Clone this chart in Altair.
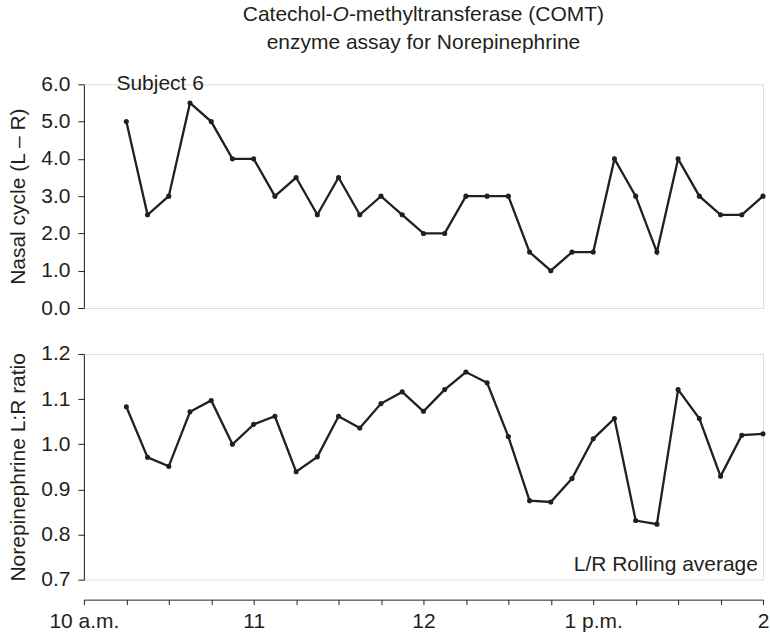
import altair as alt
import pandas as pd

# minutes after 10 a.m.
minutes = [15, 22.5, 30, 37.5, 45, 52.5, 60, 67.5, 75, 82.5, 90, 97.5, 105, 112.5,
           120, 127.5, 135, 142.5, 150, 157.5, 165, 172.5, 180, 187.5, 195, 202.5,
           210, 217.5, 225, 232.5, 240]
nasal_cycle = [5.0, 2.5, 3.0, 5.5, 5.0, 4.0, 4.0, 3.0, 3.5, 2.5, 3.5, 2.5, 3.0, 2.5,
               2.0, 2.0, 3.0, 3.0, 3.0, 1.5, 1.0, 1.5, 1.5, 4.0, 3.0, 1.5, 4.0, 3.0,
               2.5, 2.5, 3.0]
ne_ratio = [1.083, 0.971, 0.951, 1.072, 1.097, 1.000, 1.044, 1.062, 0.939, 0.972,
            1.062, 1.036, 1.090, 1.116, 1.073, 1.121, 1.160, 1.136, 1.017, 0.875,
            0.872, 0.924, 1.012, 1.057, 0.831, 0.823, 1.121, 1.057, 0.929, 1.020, 1.023]

hour_ticks = [0, 60, 120, 180, 240]
hour_labels = ["10 a.m.", "11", "12", "1 p.m.", "2"]
minor_ticks = [0, 15, 30, 45, 60, 75, 90, 105, 120, 135, 150, 165, 180, 195, 210, 225, 240]
top_ticks = [0, 1, 2, 3, 4, 5, 6]
bottom_ticks = [0.7, 0.8, 0.9, 1.0, 1.1, 1.2]

title_line1 = ["Catechol-", "O", "-methyltransferase (COMT)"]
title_line2 = "enzyme assay for Norepinephrine"

FONT = "Liberation Sans"
INK = "#231f20"
FS = 21
W = 680
H_TOP = 224
H_BOT = 226

df = pd.DataFrame({"t": minutes, "nasal": nasal_cycle, "ratio": ne_ratio})

xscale = alt.Scale(domain=[0, 240], nice=False, zero=False)

label_expr = " : ".join(
    f"datum.value == {v} ? '{s}'" for v, s in zip(hour_ticks, hour_labels)
) + " : ''"

yaxis_common = dict(
    format=".1f", tickSize=6, labelPadding=8, titlePadding=12,
    labelFontSize=FS, titleFontSize=FS, labelFont=FONT, titleFont=FONT,
    titleFontWeight="normal", labelColor=INK, titleColor=INK,
    domainColor=INK, tickColor=INK, grid=False, labelOverlap=False,
)

top_y = alt.Y("nasal:Q",
              scale=alt.Scale(domain=[0, 6], nice=False),
              axis=alt.Axis(values=top_ticks, title="Nasal cycle (L – R)", **yaxis_common))
top_x = alt.X("t:Q", scale=xscale, axis=None)

top_base = alt.Chart(df).encode(x=top_x, y=top_y)
top_line = top_base.mark_line(color=INK, strokeWidth=2.3)
top_pts = top_base.mark_circle(color=INK, size=26, opacity=1)

subj = alt.Chart(pd.DataFrame({"t": [11.5], "nasal": [6.0], "label": ["Subject 6"]})).mark_text(
    align="left", baseline="middle", font=FONT, fontSize=FS, color=INK
).encode(x=top_x, y=top_y, text="label:N")

# Title (line 1 has an italic "O"), built from text pieces centred over the plot
em = {"Catechol-": 4.279, "O": 0.778, "-methyltransferase (COMT)": 17.225 - 4.279 - 0.778}
total = sum(em.values()) * FS
x0 = W / 2 - total / 2
p1_end = x0 + em["Catechol-"] * FS
o_end = p1_end + em["O"] * FS
title_layers = []
for txt, xpos, align, style in [
    (title_line1[0], p1_end, "right", "normal"),
    (title_line1[1], (p1_end + o_end) / 2, "center", "italic"),
    (title_line1[2], o_end, "left", "normal"),
]:
    title_layers.append(
        alt.Chart(pd.DataFrame({"s": [txt]})).mark_text(
            align=align, baseline="alphabetic", font=FONT, fontSize=FS,
            fontStyle=style, color=INK
        ).encode(x=alt.value(xpos), y=alt.value(-63), text="s:N")
    )
title_layers.append(
    alt.Chart(pd.DataFrame({"s": [title_line2]})).mark_text(
        align="center", baseline="alphabetic", font=FONT, fontSize=FS, color=INK
    ).encode(x=alt.value(W / 2), y=alt.value(-35), text="s:N")
)

top = alt.layer(top_line, top_pts, subj, *title_layers).properties(width=W, height=H_TOP)

bot_y = alt.Y("ratio:Q",
              scale=alt.Scale(domain=[0.7, 1.2], nice=False, zero=False),
              axis=alt.Axis(values=bottom_ticks, title="Norepinephrine L:R ratio", **yaxis_common))
bot_x = alt.X("t:Q", scale=xscale,
              axis=alt.Axis(values=minor_ticks, labelExpr=label_expr, title=None,
                            offset=20, tickSize=5, labelPadding=6, labelFlush=False,
                            labelOverlap=False, labelFontSize=FS, labelFont=FONT,
                            labelColor=INK, domainColor=INK, tickColor=INK,
                            grid=False, labelAngle=0))

bot_base = alt.Chart(df).encode(x=bot_x, y=bot_y)
bot_line = bot_base.mark_line(color=INK, strokeWidth=2.3)
bot_pts = bot_base.mark_circle(color=INK, size=26, opacity=1)
roll = alt.Chart(pd.DataFrame({"t": [238.2], "ratio": [0.72], "label": ["L/R Rolling average"]})).mark_text(
    align="right", baseline="alphabetic", font=FONT, fontSize=FS, color=INK
).encode(x=bot_x, y=bot_y, text="label:N")

bottom = alt.layer(bot_line, bot_pts, roll).properties(width=W, height=H_BOT)

chart = alt.vconcat(top, bottom, spacing=46, bounds="flush").properties(
    padding={"left": 7, "top": 3, "right": 0, "bottom": 0}
).configure_view(stroke=None).configure(font=FONT)

chart.save("out.html", embed_options={"renderer": "svg", "actions": False})
